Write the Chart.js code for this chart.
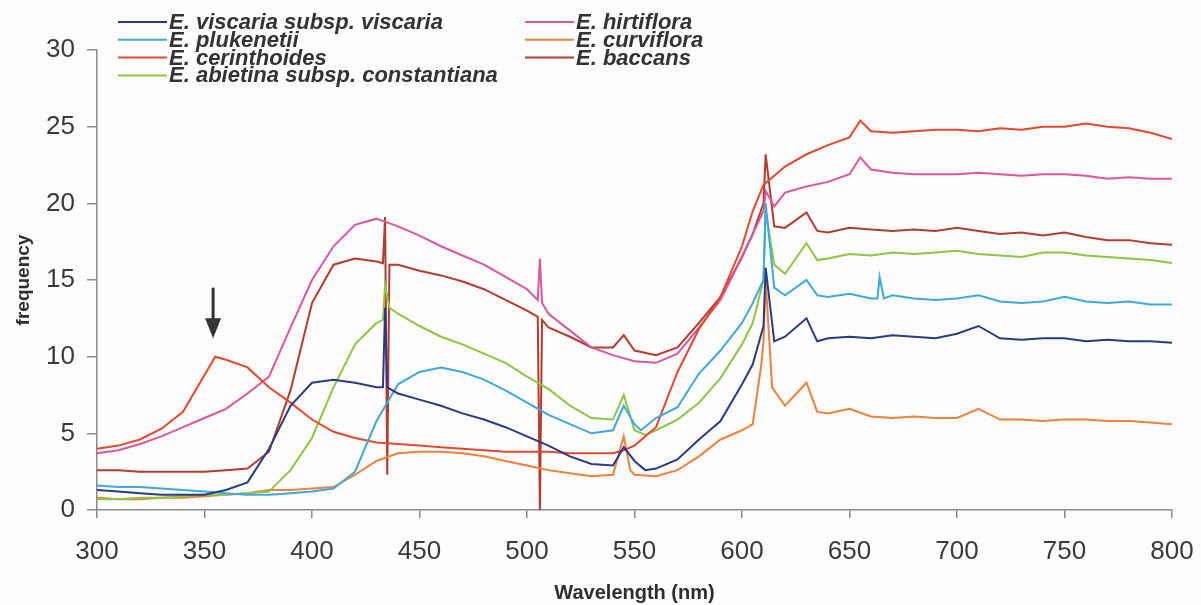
<!DOCTYPE html>
<html>
<head>
<meta charset="utf-8">
<script src="https://cdn.jsdelivr.net/npm/chart.js@4.4.0/dist/chart.umd.min.js"></script>
<style>
  html, body { margin: 0; padding: 0; background: #fdfdfd; }
  #wrap { width: 1201px; height: 605px; }
</style>
</head>
<body>
<div id="wrap"><canvas id="spectra" width="1201" height="605"></canvas></div>
<script>
// wavelength grid (nm), one reading every 10 nm
const wavelengths = [300,310,320,330,340,350,360,370,380,390,400,410,420,430,440,450,460,470,480,490,
    500,510,520,530,540,550,560,570,580,590,600,610,620,630,640,650,660,670,680,690,
    700,710,720,730,740,750,760,770,780,790,800]

// readings on the grid, per taxon
const viscaria = [1.3,1.2,1.1,1.0,1.0,1.0,1.3,1.8,4.0,6.8,8.3,8.5,8.3,8.0,7.6,7.2,6.8,6.3,5.9,5.4,
    4.8,4.2,3.5,3.0,2.9,3.2,2.7,3.3,4.6,5.8,8.2,12.0,11.3,12.5,11.2,11.3,11.2,11.4,11.3,11.2,
    11.5,12.0,11.2,11.1,11.2,11.2,11.0,11.1,11.0,11.0,10.9]
const plukenetii = [1.6,1.5,1.5,1.4,1.3,1.2,1.1,1.0,1.0,1.1,1.2,1.4,2.5,5.8,8.2,9.0,9.3,9.0,8.5,7.8,
    7.0,6.2,5.6,5.0,5.2,5.6,6.0,6.7,8.9,10.4,12.2,15.0,14.0,15.0,13.9,14.1,13.8,14.0,13.8,13.7,
    13.8,14.0,13.6,13.5,13.6,13.9,13.6,13.5,13.6,13.4,13.4]
const cerinthoides = [4.0,4.2,4.6,5.3,6.4,8.8,9.8,9.3,8.0,7.0,5.9,5.1,4.7,4.4,4.3,4.2,4.1,4.0,3.9,3.8,
    3.8,3.8,3.7,3.7,3.7,4.2,5.4,9.0,11.8,13.9,17.2,21.2,22.4,23.2,23.8,24.3,24.7,24.6,24.7,24.8,
    24.8,24.7,24.9,24.8,25.0,25.0,25.2,25.0,24.9,24.6,24.2]
const abietina = [0.7,0.7,0.8,0.8,0.9,1.0,1.0,1.1,1.2,2.6,4.7,8.0,10.8,12.2,12.8,12.0,11.3,10.8,10.2,9.6,
    8.7,7.9,6.8,6.0,5.9,5.2,5.2,5.9,7.0,8.6,10.8,15.0,15.4,17.4,16.4,16.7,16.6,16.8,16.7,16.8,
    16.9,16.7,16.6,16.5,16.8,16.8,16.6,16.5,16.4,16.3,16.1]
const hirtiflora = [3.7,3.9,4.3,4.8,5.4,6.0,6.6,7.6,8.7,11.9,15.0,17.2,18.6,19.0,18.5,17.9,17.2,16.6,16.0,15.2,
    14.4,12.8,11.7,10.6,10.1,9.7,9.6,10.2,11.9,13.7,16.5,19.5,20.7,21.1,21.4,21.9,22.2,22.0,21.9,21.9,
    21.9,22.0,21.9,21.8,21.9,21.9,21.8,21.6,21.7,21.6,21.6]
const curviflora = [0.8,0.7,0.7,0.8,0.8,0.9,1.0,1.1,1.3,1.3,1.4,1.5,2.3,3.2,3.7,3.8,3.8,3.7,3.5,3.2,
    2.9,2.6,2.4,2.2,2.3,2.3,2.2,2.6,3.5,4.6,5.2,11.0,6.8,8.3,6.3,6.6,6.1,6.0,6.1,6.0,
    6.0,6.6,5.9,5.9,5.8,5.9,5.9,5.8,5.8,5.7,5.6]
const baccans = [2.6,2.6,2.5,2.5,2.5,2.5,2.6,2.7,3.8,7.8,13.5,16.0,16.4,16.2,16.0,15.6,15.3,14.9,14.4,13.7,
    13.0,11.9,11.3,10.6,10.6,10.4,10.1,10.6,12.2,13.9,16.5,20.0,18.4,19.4,18.1,18.4,18.3,18.2,18.3,18.2,
    18.4,18.2,18.0,18.1,17.9,18.1,17.8,17.6,17.6,17.4,17.3]

// extra readings off the grid: the sharp peaks and glitches [nm, value]
const viscariaExtra = [[433,8.0],[434,13.2],[435,8.0],[545,4.1],[555,2.6],[605,9.5],[611,15.8],[615,11.0],[635,11.0]]
const plukenetiiExtra = [[545,6.8],[553,5.2],[605,13.5],[611,20.0],[615,14.5],[635,14.0],[663,13.8],[664,15.2],[666,13.8]]
const cerinthoidesExtra = [[355,10.0],[545,3.9],[605,19.5],[655,25.4]]
const abietinaExtra = [[433,12.4],[434,14.7],[436,13.2],[545,7.5],[555,4.9],[605,12.2],[611,19.5],[615,16.0],[635,16.3]]
const hirtifloraExtra = [[505,13.7],[506,16.4],[507,13.5],[605,18.0],[611,20.8],[615,19.8],[655,23.0]]
const curvifloraExtra = [[545,4.8],[548,2.6],[605,5.6],[609,9.5],[611,15.0],[614,8.0],[635,6.4]]
const baccansExtra = [[433,16.1],[434,19.1],[435,2.3],[436,16.0],[505,12.6],[506,0],[507,12.4],[545,11.4],[605,18.0],[611,23.2],[615,18.5],[635,18.2]]

const seriesNames = ['E. viscaria subsp. viscaria', 'E. plukenetii', 'E. cerinthoides',
    'E. abietina subsp. constantiana', 'E. hirtiflora', 'E. curviflora', 'E. baccans']

const xTicks = [300,350,400,450,500,550,600,650,700,750,800]
const yTicks = [0,5,10,15,20,25,30]

// arrow over the cerinthoides peak (nm, top, tip)
const arrowAt = [354, 14.5, 11.2]

function buildPoints(values, extra) {
    const pts = wavelengths.map((w, i) => ({ x: w, y: values[i] }))
    extra.forEach(([x, y]) => pts.push({ x: x, y: y }))
    pts.sort((a, b) => a.x - b.x)
    return pts
}

const colors = ['#2b3a85', '#3ea8df', '#e8472e', '#8dc640', '#df559c', '#f0803c', '#b63a2e']
const seriesData = [
    buildPoints(viscaria, viscariaExtra),
    buildPoints(plukenetii, plukenetiiExtra),
    buildPoints(cerinthoides, cerinthoidesExtra),
    buildPoints(abietina, abietinaExtra),
    buildPoints(hirtiflora, hirtifloraExtra),
    buildPoints(curviflora, curvifloraExtra),
    buildPoints(baccans, baccansExtra)
]

// two column legend drawn over the plot, as in the original
const sideLegend = {
    id: 'sideLegend',
    afterDraw(chart) {
        const ctx = chart.ctx
        const cols = [118, 525]
        const rowTop = 22
        const rowStep = 17.8
        ctx.save()
        ctx.font = 'bold italic 22px "Liberation Sans", Arial, sans-serif'
        ctx.textBaseline = 'middle'
        chart.data.datasets.forEach((ds, i) => {
            const col = i < 4 ? 0 : 1
            const row = i < 4 ? i : i - 4
            const x = cols[col]
            const y = rowTop + row * rowStep
            ctx.strokeStyle = ds.borderColor
            ctx.lineWidth = 2
            ctx.beginPath()
            ctx.moveTo(x, y)
            ctx.lineTo(x + 49, y)
            ctx.stroke()
            ctx.fillStyle = '#333'
            ctx.fillText(ds.label, x + 51, y + 1)
        })
        ctx.restore()
    }
}

const arrowMark = {
    id: 'arrowMark',
    afterDatasetsDraw(chart) {
        const ctx = chart.ctx
        const px = chart.scales.x.getPixelForValue(arrowAt[0])
        const top = chart.scales.y.getPixelForValue(arrowAt[1])
        const tip = chart.scales.y.getPixelForValue(arrowAt[2])
        ctx.save()
        ctx.strokeStyle = '#333'
        ctx.fillStyle = '#333'
        ctx.lineWidth = 3
        ctx.beginPath()
        ctx.moveTo(px, top)
        ctx.lineTo(px, tip - 14)
        ctx.stroke()
        ctx.beginPath()
        ctx.moveTo(px - 8, tip - 20)
        ctx.lineTo(px + 8, tip - 20)
        ctx.lineTo(px, tip)
        ctx.closePath()
        ctx.fill()
        ctx.restore()
    }
}

const ctx = document.getElementById('spectra')
const chart = new Chart(ctx, {
    type: 'line',
    data: {
        datasets: seriesNames.map((name, i) => ({
            label: name,
            data: seriesData[i],
            borderColor: colors[i],
            backgroundColor: colors[i],
            borderWidth: 2,
            pointRadius: 0,
            tension: 0
        }))
    },
    options: {
        responsive: false,
        animation: false,
        devicePixelRatio: 1,
        layout: { padding: { top: 50, right: 29, left: 0, bottom: 0 } },
        plugins: {
            legend: { display: false },
            tooltip: { enabled: false }
        },
        scales: {
            x: {
                type: 'linear',
                min: 300,
                max: 800,
                afterBuildTicks: (scale) => { scale.ticks = xTicks.map(v => ({ value: v })) },
                afterFit: (scale) => {
                    scale.height = 95
                    scale.paddingLeft = 0
                    scale.paddingRight = 0
                },
                grid: { drawOnChartArea: false, color: '#8a8a8a', tickLength: 8, lineWidth: 1.5 },
                border: { color: '#8a8a8a', width: 1.5 },
                ticks: {
                    color: '#3a3a3a',
                    padding: 18,
                    maxRotation: 0,
                    font: { family: '"Liberation Sans", Arial, sans-serif', size: 26 }
                },
                title: {
                    display: true,
                    text: 'Wavelength (nm)',
                    color: '#2e2e2e',
                    padding: 0,
                    font: { family: '"Liberation Sans", Arial, sans-serif', size: 20, weight: 'bold' }
                }
            },
            y: {
                min: 0,
                max: 30,
                afterBuildTicks: (scale) => { scale.ticks = yTicks.map(v => ({ value: v })) },
                afterFit: (scale) => {
                    scale.width = 97
                    scale.paddingTop = 0
                    scale.paddingBottom = 0
                },
                grid: { drawOnChartArea: false, color: '#8a8a8a', tickLength: 10, lineWidth: 1.5 },
                border: { color: '#8a8a8a', width: 1.5 },
                ticks: {
                    color: '#3a3a3a',
                    padding: 12,
                    font: { family: '"Liberation Sans", Arial, sans-serif', size: 26 }
                },
                title: {
                    display: true,
                    text: 'frequency',
                    color: '#2e2e2e',
                    padding: { top: 12, bottom: 0 },
                    font: { family: '"Liberation Sans", Arial, sans-serif', size: 19, weight: 'bold' }
                }
            }
        }
    },
    plugins: [sideLegend, arrowMark]
});
</script>
</body>
</html>
